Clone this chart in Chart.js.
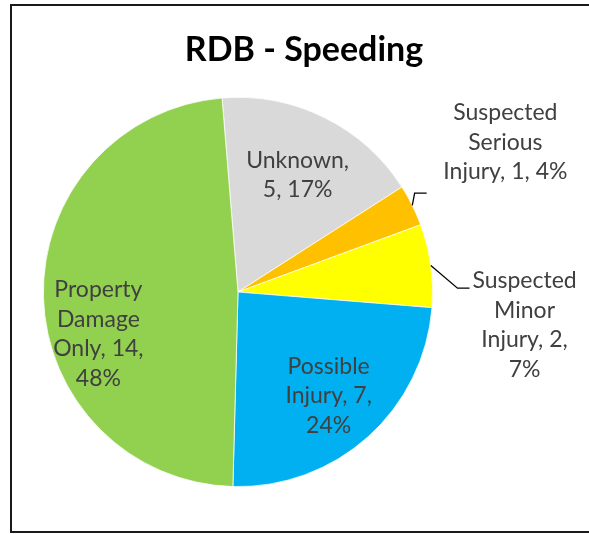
<!DOCTYPE html>
<html><head><meta charset="utf-8">
<script src="https://cdn.jsdelivr.net/npm/chart.js@4.4.0/dist/chart.umd.min.js"></script>
<style>
html,body{margin:0;padding:0;background:#fff;overflow:hidden;}
#wrap{position:relative;width:589px;height:534px;}
#frame{position:absolute;left:10px;top:4px;width:600px;height:529px;border:2px solid #1a1a1a;box-sizing:border-box;}
#c{position:absolute;left:0;top:0;}
</style></head><body>
<div id="wrap"><div id="frame"></div><canvas id="c" width="589" height="534"></canvas></div>
<script>
const chartTitle = 'RDB - Speeding';
const categories = ['Unknown', 'Suspected Serious Injury', 'Suspected Minor Injury', 'Possible Injury', 'Property Damage Only'];
const counts = [5, 1, 2, 7, 14];
const percentLabels = [17, 4, 7, 24, 48];
const sliceColors = ['#D9D9D9', '#FFC000', '#FFFF00', '#00B0F0', '#92D050'];

const LABEL_FONT = '23px Lato';
const LINE_H = 29.5;
// placement relative to each slice: angle offset (deg) from slice middle, radius factor
const placement = [
  {dAng: 0.7, r: 0.674, wrap: 100},
  {dAng: -2.8, r: 1.574, wrap: 125, leader: {dAng: -2.8, r: 1.04, tail: 12}},
  {dAng: 14.4, r: 1.482, wrap: 100, leader: {dAng: 6.8, r: 1.128, tail: 12}},
  {dAng: 0.8, r: 0.708, wrap: 100},
  {dAng: -15.1, r: 0.749, wrap: 100}
];

function wrapText(ctx, text, maxW) {
  const words = text.split(' ');
  const lines = [];
  let cur = '';
  for (const w of words) {
    const t = cur ? cur + ' ' + w : w;
    if (cur && ctx.measureText(t).width > maxW) { lines.push(cur); cur = w; }
    else cur = t;
  }
  if (cur) lines.push(cur);
  return lines;
}

const labelPlugin = {
  id: 'sliceLabels',
  afterDatasetsDraw(chart) {
    const ctx = chart.ctx;
    const meta = chart.getDatasetMeta(0);
    ctx.save();
    // title
    ctx.font = 'bold 34px Lato';
    ctx.fillStyle = '#000';
    ctx.textAlign = 'center';
    ctx.textBaseline = 'middle';
    ctx.fillText(chartTitle, 304, 50);

    ctx.font = LABEL_FONT;
    ctx.fillStyle = '#404040';
    meta.data.forEach((arc, i) => {
      const p = placement[i];
      const mid = (arc.startAngle + arc.endAngle) / 2;
      const R = arc.outerRadius;
      const a = mid + p.dAng * Math.PI / 180;
      const lx = arc.x + Math.cos(a) * R * p.r;
      const ly = arc.y + Math.sin(a) * R * p.r;
      const text = categories[i] + ', ' + counts[i] + ', ' + percentLabels[i] + '%';
      const lines = wrapText(ctx, text, p.wrap);
      const y0 = ly - (lines.length - 1) * LINE_H / 2;
      lines.forEach((ln, k) => ctx.fillText(ln, lx, y0 + k * LINE_H));
      if (p.leader) {
        const sx = arc.x + Math.cos(mid) * R;
        const sy = arc.y + Math.sin(mid) * R;
        const ea = mid + p.leader.dAng * Math.PI / 180;
        const ex = arc.x + Math.cos(ea) * R * p.leader.r;
        const ey = arc.y + Math.sin(ea) * R * p.leader.r;
        ctx.beginPath();
        ctx.strokeStyle = '#000';
        ctx.lineWidth = 1.3;
        ctx.moveTo(sx, sy);
        ctx.lineTo(ex, ey);
        ctx.lineTo(ex + p.leader.tail, ey);
        ctx.stroke();
      }
    });
    ctx.restore();
  }
};

new Chart(document.getElementById('c'), {
  type: 'pie',
  data: {
    labels: categories,
    datasets: [{
      data: counts,
      backgroundColor: sliceColors,
      borderColor: '#ffffff',
      borderWidth: 0.75
    }]
  },
  options: {
    responsive: false,
    animation: false,
    rotation: -4.7,
    layout: {padding: {left: 43, right: 156, top: 97, bottom: 47}},
    plugins: {legend: {display: false}, title: {display: false}, tooltip: {enabled: false}}
  },
  plugins: [labelPlugin]
});
</script>
</body></html>
